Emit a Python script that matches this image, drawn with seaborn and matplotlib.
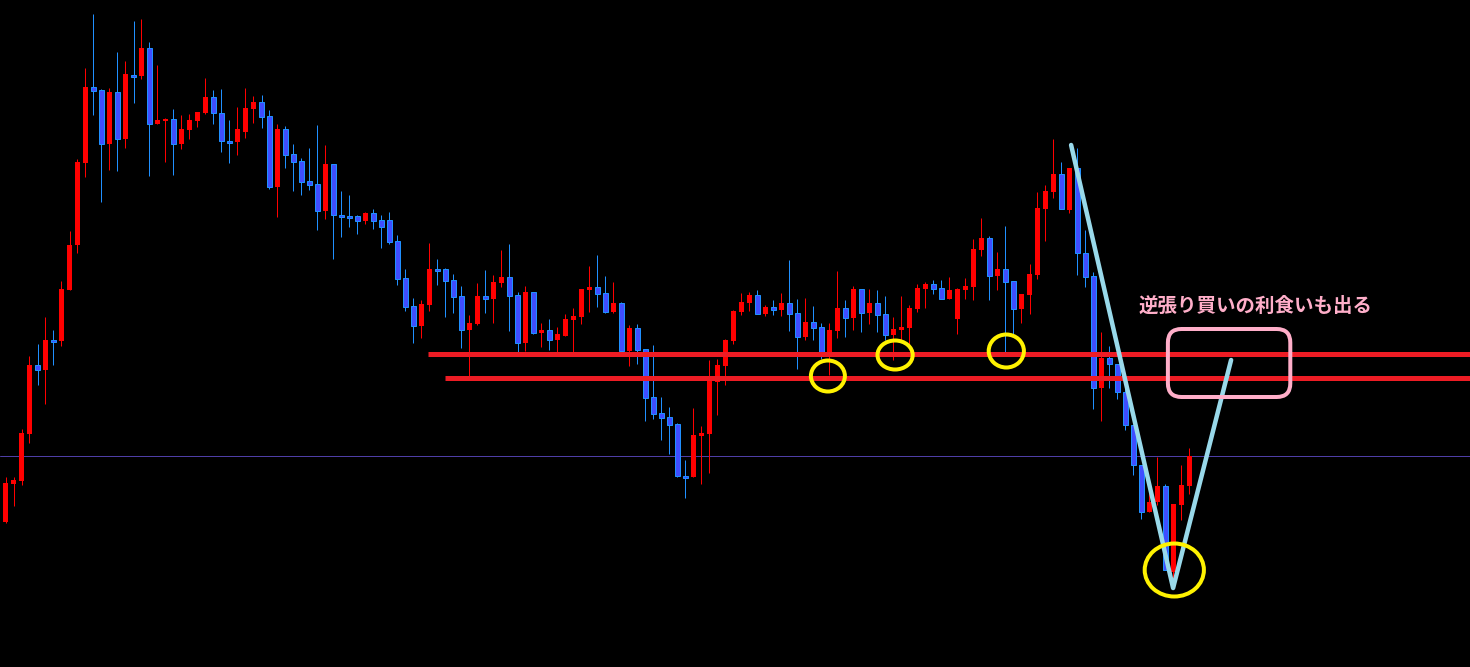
import numpy as np
import pandas as pd
import matplotlib
matplotlib.use("Agg")
import matplotlib.pyplot as plt
import seaborn as sns
from matplotlib.patches import Ellipse, FancyBboxPatch

# Price readings per candle (chart rows, smaller = higher price; axis is inverted)
opens = [522, 484, 481, 434, 365, 370, 340, 341, 290, 245, 163, 87, 90, 144, 92, 139, 75, 76, 48, 124,
         120, 119, 144, 130, 121, 113, 97, 113, 141, 142, 132, 109, 102, 116, 187, 129, 154, 161, 181, 184,
         211, 164, 215, 216, 216, 221, 213, 220, 220, 241, 278, 306, 326, 305, 269, 269, 280, 296, 330, 324,
         296, 299, 283, 277, 295, 343, 292, 333, 330, 340, 336, 320, 317, 290, 287, 293, 312, 303, 351, 328,
         349, 397, 413, 417, 424, 476, 477, 436, 434, 382, 366, 341, 312, 303, 295, 314, 307, 310, 303, 313,
         337, 322, 327, 352, 331, 308, 318, 289, 313, 303, 314, 335, 330, 328, 309, 289, 284, 288, 299, 319,
         290, 287, 250, 238, 276, 269, 281, 309, 295, 275, 209, 192, 174, 210, 168, 253, 276, 388, 358, 364,
         392, 425, 465, 512, 502, 486, 572, 505, 486]
highs = [477, 477, 429, 356, 344, 317, 330, 281, 231, 159, 68, 14, 89, 88, 52, 61, 21, 19, 42, 65,
         118, 109, 115, 114, 112, 78, 90, 89, 120, 107, 88, 96, 95, 110, 124, 126, 144, 158, 148, 125,
         145, 164, 191, 195, 215, 212, 209, 215, 212, 235, 269, 298, 300, 243, 259, 268, 274, 286, 315, 283,
         270, 275, 250, 244, 292, 286, 292, 323, 319, 327, 314, 308, 289, 266, 255, 276, 282, 302, 325, 324,
         349, 345, 397, 407, 423, 460, 408, 426, 360, 359, 339, 310, 293, 292, 290, 305, 300, 293, 260, 299,
         298, 306, 323, 323, 271, 300, 286, 289, 289, 290, 296, 317, 296, 305, 284, 282, 280, 280, 277, 288,
         278, 239, 218, 236, 252, 226, 281, 294, 264, 192, 185, 139, 162, 168, 148, 230, 272, 332, 346, 364,
         387, 425, 465, 492, 457, 484, 504, 465, 448]
lows = [523, 506, 485, 443, 385, 404, 365, 346, 290, 253, 177, 115, 202, 170, 171, 148, 103, 79, 176, 124,
        162, 175, 149, 139, 127, 114, 124, 152, 163, 155, 138, 123, 128, 189, 217, 168, 191, 195, 190, 230,
        219, 259, 237, 227, 234, 224, 229, 248, 244, 285, 311, 343, 338, 311, 285, 317, 313, 348, 376, 325,
        313, 323, 287, 331, 353, 351, 334, 347, 350, 353, 336, 353, 324, 312, 307, 313, 313, 352, 366, 364,
        421, 419, 440, 454, 477, 498, 477, 484, 473, 415, 385, 344, 315, 311, 314, 316, 315, 316, 331, 369,
        340, 340, 359, 375, 338, 337, 330, 332, 324, 332, 340, 360, 342, 345, 312, 308, 294, 299, 299, 334,
        299, 300, 256, 300, 290, 353, 335, 323, 314, 279, 241, 198, 209, 213, 275, 287, 409, 421, 388, 399,
        430, 475, 519, 512, 505, 570, 578, 520, 494]
closes = [483, 480, 433, 365, 370, 340, 341, 289, 245, 162, 87, 91, 144, 92, 139, 74, 76, 48, 124, 120,
          119, 144, 129, 120, 112, 97, 113, 141, 142, 129, 108, 102, 117, 187, 129, 155, 162, 182, 185, 211,
          164, 215, 216, 217, 221, 213, 221, 227, 242, 279, 307, 326, 304, 269, 270, 281, 297, 330, 323, 296,
          299, 282, 277, 296, 343, 292, 333, 330, 340, 334, 319, 316, 289, 287, 294, 312, 303, 351, 328, 350,
          398, 414, 418, 425, 476, 477, 435, 433, 380, 365, 340, 311, 302, 295, 314, 307, 310, 303, 314, 337,
          322, 328, 352, 330, 308, 318, 289, 313, 303, 315, 335, 329, 327, 308, 288, 284, 289, 299, 290, 289,
          286, 249, 238, 276, 269, 282, 309, 294, 274, 208, 191, 174, 209, 168, 253, 277, 388, 358, 364, 392,
          425, 465, 512, 502, 486, 570, 504, 485, 456]

# Colours
UP_COL = "#ff0000"
DN_FILL = "#3f4dff"
DN_EDGE = "#2090ff"
LINE_RED = "#ed1c24"
YELLOW = "#fff200"
LIGHT_BLUE = "#99d9ea"
PINK = "#ffaec9"
GRID_PURPLE = "#4e3ea6"

df = pd.DataFrame({"o": opens, "h": highs, "l": lows, "c": closes})
df["i"] = np.arange(len(df))
df["up"] = df["c"] < df["o"]  # inverted axis: smaller reading = higher price

sns.set_theme(style="dark", rc={"axes.facecolor": "black", "figure.facecolor": "black",
                                "savefig.facecolor": "black"})
plt.rcParams['font.family'] = ['Noto Sans CJK JP', 'DejaVu Sans']

W, H = 1470, 667
fig = plt.figure(figsize=(W / 100, H / 100), dpi=100)
ax = fig.add_axes([0, 0, 1, 1])
ax.set_facecolor("black")

px = 1 * 72 / 100  # one pixel in points

# wicks
for up, grp in df.groupby("up"):
    ax.vlines(grp["i"], grp["h"], grp["l"], color=UP_COL if up else DN_EDGE, lw=px, zorder=2)

# bodies
body_w = 0.62
top = np.minimum(df["o"], df["c"])
height = np.maximum(np.abs(df["o"] - df["c"]), 1.5)
up = df["up"].values
ax.bar(df["i"][up], height[up], bottom=top[up], width=body_w, color=UP_COL,
       edgecolor="none", linewidth=0, zorder=3)
ax.bar(df["i"][~up], height[~up], bottom=top[~up], width=body_w, color=DN_FILL,
       edgecolor=DN_EDGE, linewidth=px, zorder=3)

x0 = -5.5 / 8
x1 = (W - 5.5) / 8

def frame():
    ax.set_xlim(x0, x1)
    ax.set_ylim(H, 0)
    ax.axis("off")

frame()

# thin purple level line
ax.axhline(456, color=GRID_PURPLE, lw=px, zorder=1)

# support lines
ax.hlines([354, 378], [52.8, 54.9], [x1 + 1, x1 + 1], color=LINE_RED, lw=5 * px, zorder=4)

# V arrow path
vdf = pd.DataFrame({"x": [133.2, 145.95, 153.2], "y": [145, 588, 360]})
sns.lineplot(data=vdf, x="x", y="y", sort=False, color=LIGHT_BLUE, lw=4.5 * px, ax=ax,
             zorder=5, solid_capstyle="round", solid_joinstyle="round")
frame()

# yellow circles
for cx, cy, ew, eh in [(102.8, 376, 4.25, 31), (111.2, 355, 4.4, 29),
                       (125.1, 351, 4.4, 33), (146.1, 570, 7.4, 53)]:
    ax.add_patch(Ellipse((cx, cy), ew, eh, fill=False, edgecolor=YELLOW, lw=4 * px, zorder=6))

# pink rounded box
ax.add_patch(FancyBboxPatch((145.3, 329), 15.3, 68,
                            boxstyle="round,pad=0,rounding_size=1.7", mutation_aspect=8,
                            fill=False, edgecolor=PINK, lw=4 * px, zorder=6))

ax.text(141.6, 306.5, "逆張り買いの利食いも出る", color=PINK, fontsize=14, fontweight="bold",
        ha="left", va="center", zorder=7)

fig.savefig("out.png", dpi=100, facecolor="black")
